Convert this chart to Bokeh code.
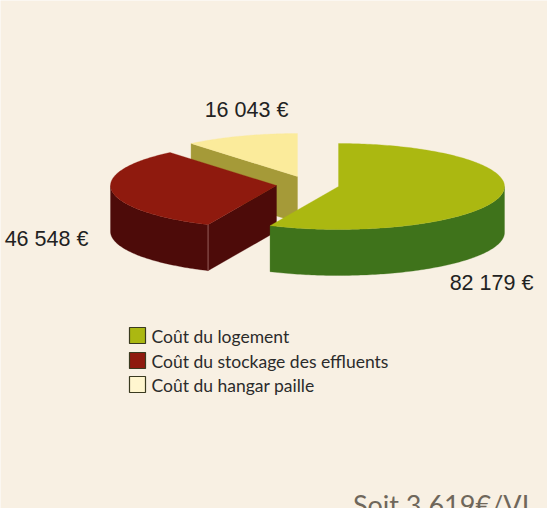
import math
from bokeh.plotting import figure
from bokeh.models import Range1d
from bokeh.core.properties import value
from bokeh.embed import file_html
from bokeh.resources import INLINE

categories = ["Coût du logement", "Coût du stockage des effluents", "Coût du hangar paille"]
amounts = [82179, 46548, 16043]
footer = "Soit 3 619€/VL"

BG = "#f8f0e3"
TOP = ["#abb811", "#8f1a0e", "#fbeb9b"]
WALL = ["#3f731b", "#4d0b09", "#a59a38"]
SWATCH = ["#abb811", "#8f1a0e", "#fff6cf"]
CENTRES = [(338, 186), (276, 185), (297, 176)]
LABELS = [(491, 282), (46, 238), (246, 109)]
LEGEND_Y = [335, 360, 384]
RX, RY, DEPTH = 166, 43, 46

p = figure(width=547, height=508, x_range=Range1d(0, 547), y_range=Range1d(508, 0),
           toolbar_location=None, output_backend="svg", min_border=0,
           background_fill_color=BG, border_fill_color=BG, outline_line_color=None)
p.axis.visible = False
p.grid.visible = False


def pt(c, deg, dz=0):
    r = math.radians(deg)
    return c[0] + RX * math.sin(r), c[1] - RY * math.cos(r) + dz


def arc(c, a0, a1, dz=0):
    n = max(2, int(abs(a1 - a0)))
    return [pt(c, a0 + (a1 - a0) * i / n, dz) for i in range(n + 1)]


def fill(points, color):
    p.patch([q[0] for q in points], [q[1] for q in points], fill_color=color,
            line_color=color, line_width=0.3)


total = sum(amounts)
edges = [0]
for v in amounts:
    edges.append(edges[-1] + 360 * v / total)

# back to front: hangar, stockage, logement
for i in (2, 1, 0):
    c, a0, a1 = CENTRES[i], edges[i], edges[i + 1]
    w0, w1 = max(a0, 90), min(a1, 270)
    if w1 > w0:
        fill(arc(c, w0, w1) + arc(c, w1, w0, DEPTH), WALL[i])
    if i in (1, 2):
        s = pt(c, a0)
        fill([c, s, (s[0], s[1] + DEPTH), (c[0], c[1] + DEPTH)], WALL[i])
    if i == 1:
        s = pt(c, a0)
        p.line([s[0], s[0]], [s[1], s[1] + DEPTH], line_color="#a8726c", line_width=0.8)
    fill([c] + arc(c, a0, a1), TOP[i])

for (x, y), v in zip(LABELS, amounts):
    p.text([x], [y], text=[f"{v:,}".replace(",", " ") + " €"], text_font=value("Liberation Sans"),
           text_font_size="21.5px", text_color="#222222", text_align="center", text_baseline="middle")

p.text([535], [504], text=[footer], text_font=value("Lato"), text_font_size="27px",
       text_color="#6f675b", text_align="right", text_baseline="alphabetic")

for name, col, y in zip(categories, SWATCH, LEGEND_Y):
    p.rect([137], [y], width=16, height=16, fill_color=col, line_color="#3a3a20", line_width=1.2)
    p.text([151], [y + 1], text=[name], text_font=value("Lato"), text_font_size="17.5px",
           text_color="#2b2b2b", text_align="left", text_baseline="middle")

open("out.html", "w").write(file_html(p, INLINE))
